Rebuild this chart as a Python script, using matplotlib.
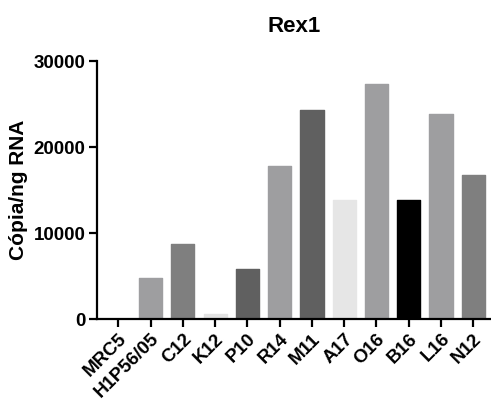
import matplotlib
matplotlib.use("Agg")
import matplotlib.pyplot as plt

categories = ["MRC5", "H1P56/05", "C12", "K12", "P10", "R14", "M11", "A17", "O16", "B16", "L16", "N12"]
values = [0, 4750, 8800, 650, 5900, 17850, 24350, 13900, 27300, 13900, 23900, 16750]
colors = ["#ffffff", "#9e9ea0", "#7f7f7f", "#e3e3e3", "#606060", "#9e9ea0", "#606060",
          "#e6e6e6", "#9e9ea0", "#000000", "#9e9ea0", "#7f7f7f"]
yticks = [0, 10000, 20000, 30000]

plt.rcParams['font.family'] = ['Liberation Sans', 'DejaVu Sans']

fig = plt.figure(figsize=(4.91, 4.03), dpi=100)
ax = fig.add_axes([0.197, 0.2077, 0.803, 0.6409])

x = list(range(len(categories)))
bars = ax.bar(x, values, width=0.72, color=colors, edgecolor=colors, linewidth=1.0)
for b in bars:
    b.set_joinstyle('round')

ax.set_xlim(-0.67, 11.55)
ax.set_ylim(0, 30000)
ax.set_yticks(yticks)
ax.set_yticklabels([str(t) for t in yticks], fontsize=13.5, fontweight='bold')
ax.set_xticks(x)
ax.set_xticklabels(categories, rotation=45, ha='right', rotation_mode='anchor',
                   fontsize=13.5, fontweight='bold')

for s in ['top', 'right']:
    ax.spines[s].set_visible(False)
for s in ['left', 'bottom']:
    ax.spines[s].set_linewidth(1.6)
ax.tick_params(axis='both', width=1.6, length=6, direction='out')
ax.tick_params(axis='x', pad=2)
ax.tick_params(axis='y', pad=2)

ax.set_ylabel("Cópia/ng RNA", fontsize=15, fontweight='bold', labelpad=4)
ax.set_title("Rex1", fontsize=16, fontweight='bold', pad=21)

fig.savefig("out.png", dpi=100)
